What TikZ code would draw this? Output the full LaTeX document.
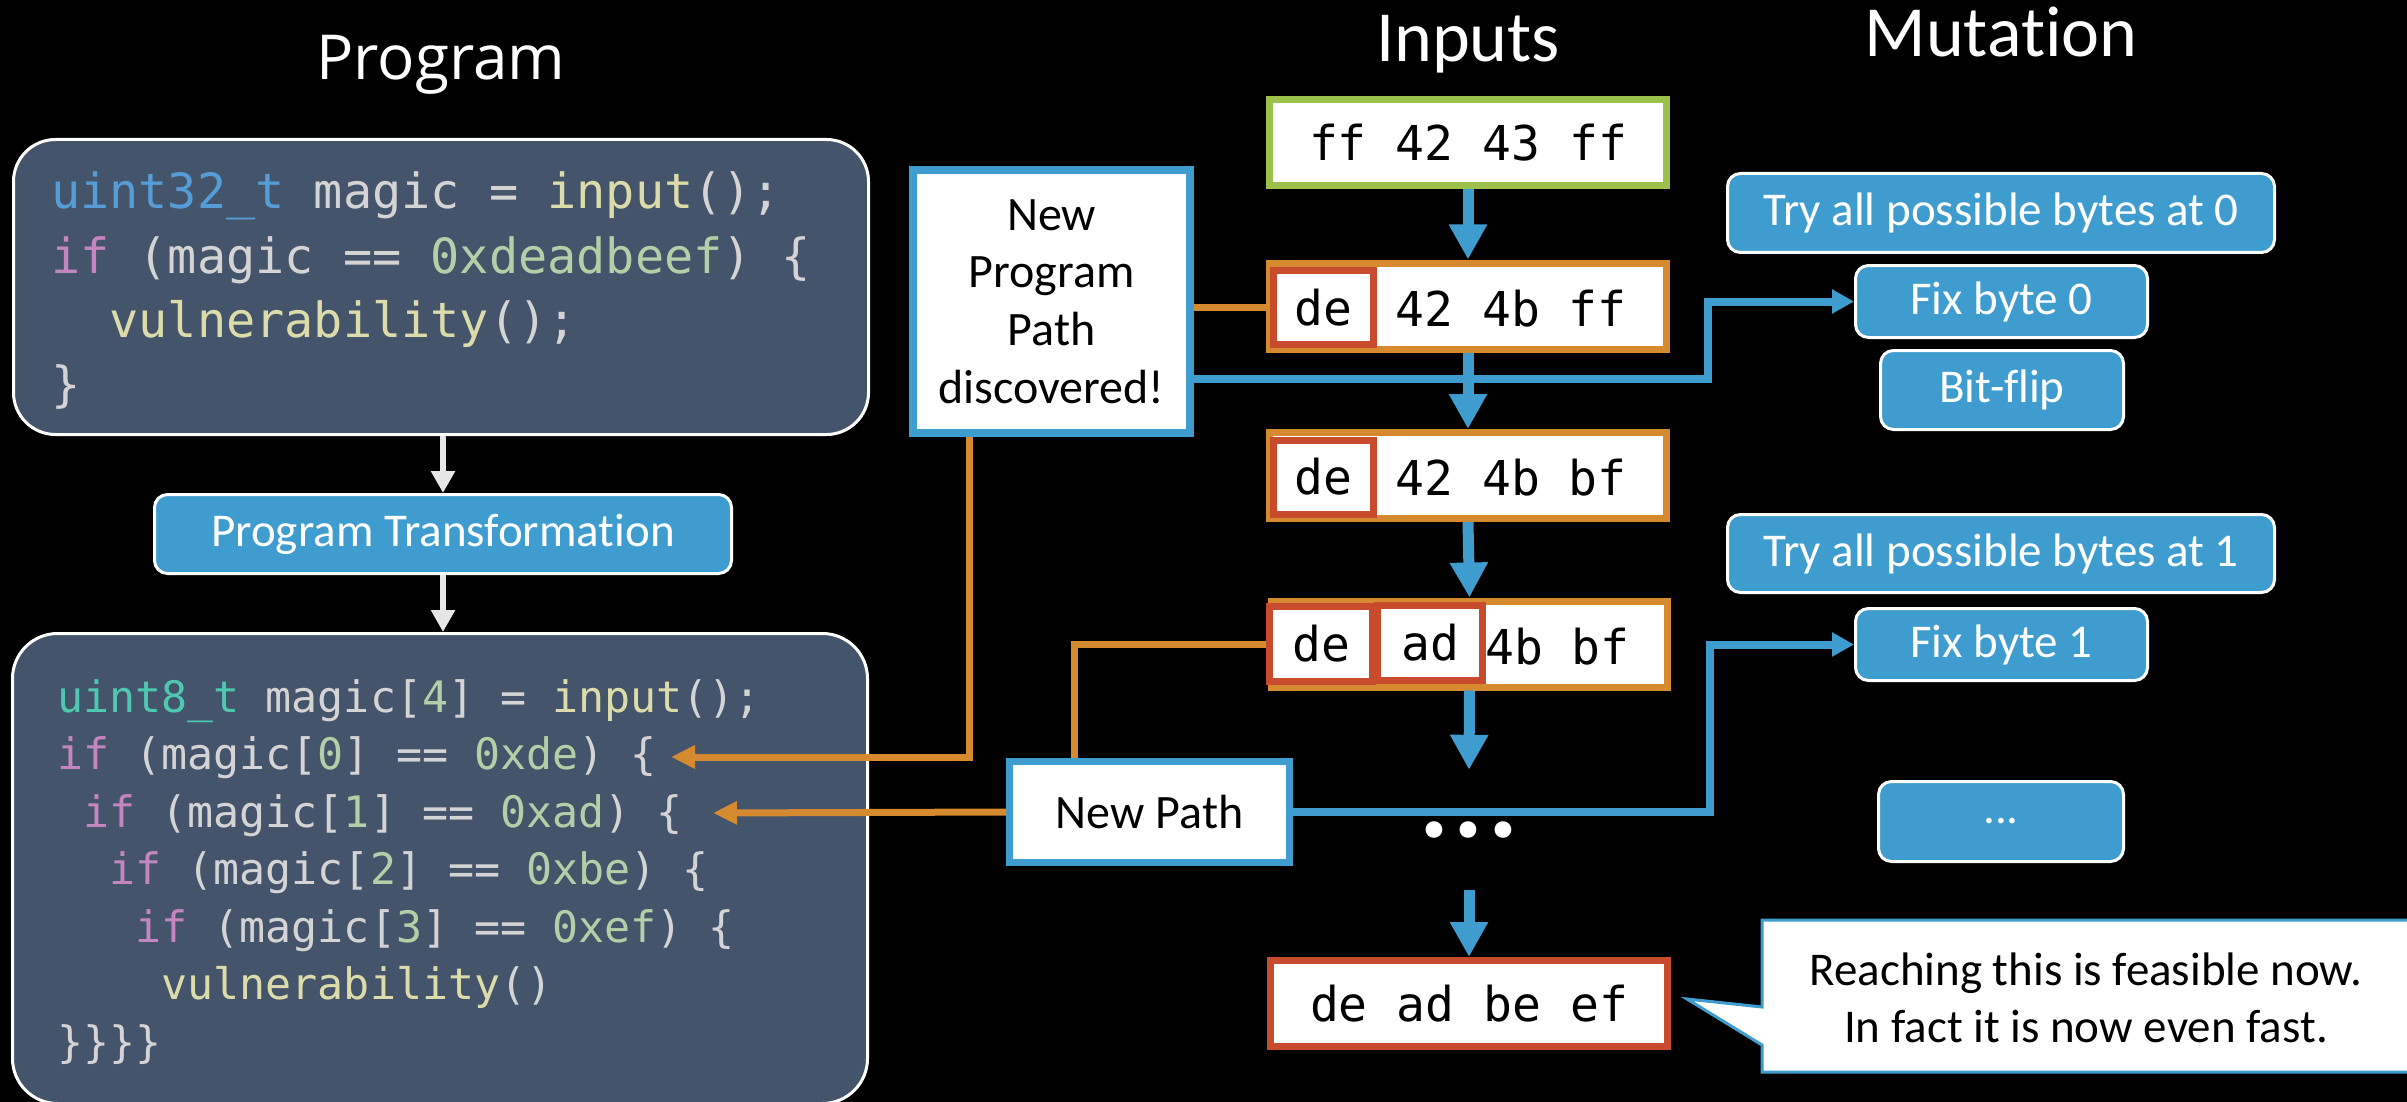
\documentclass[tikz,border=0pt]{standalone}
\usepackage{fontspec}
\setmainfont{Carlito}[Ligatures=NoCommon]
\newfontfamily\titlefont{Open Sans}
\newfontfamily\monofont{DejaVu Sans Mono}
\usetikzlibrary{arrows.meta,calc}
\definecolor{slate}{HTML}{44546A}
\definecolor{cblue}{HTML}{3E9CCE}
\definecolor{corange}{HTML}{D68A2F}
\definecolor{cred}{HTML}{C84B2E}
\definecolor{cgreen}{HTML}{9BC14A}
\definecolor{cdtext}{HTML}{D4D4D4}
\definecolor{cdtype}{HTML}{569CD6}
\definecolor{cdteal}{HTML}{4EC9B0}
\definecolor{cdfunc}{HTML}{DCDCAA}
\definecolor{cdkey}{HTML}{C586C0}
\definecolor{cdnumc}{HTML}{B5CEA8}
\definecolor{warr}{HTML}{E6E6E6}
\newcommand\cdty[1]{\textcolor{cdtype}{#1}}
\newcommand\cdtl[1]{\textcolor{cdteal}{#1}}
\newcommand\cdfn[1]{\textcolor{cdfunc}{#1}}
\newcommand\cdkw[1]{\textcolor{cdkey}{#1}}
\newcommand\cdnm[1]{\textcolor{cdnumc}{#1}}
\begin{document}
\begin{tikzpicture}[x=1pt,y=-1pt,
  codebox/.style={draw=white, line width=3, fill=slate, rounded corners=42, inner sep=0},
  codeA/.style={anchor=base west, inner sep=0, text=cdtext, font=\monofont\fontsize{48.5}{58}\selectfont},
  codeB/.style={anchor=base west, inner sep=0, text=cdtext, font=\monofont\fontsize{43.3}{52}\selectfont},
  bluebox/.style={draw=white, line width=3, fill=cblue, rounded corners=13, inner sep=0, text=white, font=\fontsize{47}{56}\selectfont},
  inbox/.style={draw, line width=7, fill=white, minimum width=397, minimum height=86, inner sep=0, font=\monofont\fontsize{48}{56}\selectfont},
  rbox/.style={draw=cred, line width=7, fill=white, inner sep=0, minimum height=74, font=\monofont\fontsize{48}{56}\selectfont},
  intext/.style={anchor=base, inner sep=0, font=\monofont\fontsize{48}{56}\selectfont},
  pathbox/.style={draw=cblue, line width=8, fill=white, inner sep=0, align=center, font=\fontsize{48}{57.7}\selectfont},
  fat/.style={draw=cblue, line width=11, -{Triangle[width=36pt,length=35pt]}},
  bconn/.style={draw=cblue, line width=8, -{Triangle[width=23pt,length=22pt]}},
  oconn/.style={draw=corange, line width=7},
  oarrow/.style={draw=corange, line width=7, -{Triangle[width=22pt,length=24pt]}},
  warrow/.style={draw=warr, line width=6, -{Triangle[width=23pt,length=22pt]}},
  title/.style={anchor=base, inner sep=0, text=white}
]
\useasboundingbox (0,0) rectangle (2407,1102);
\clip (0,0) rectangle (2407,1102);
\fill[black] (0,0) rectangle (2407,1102);

% titles
\node[title, font=\titlefont\fontsize{62}{70}\selectfont] (tprog) at (441,80) {Program};
\node[title, font=\fontsize{72}{80}\selectfont] (tin) at (1468,62) {Inputs};
\node[title, font=\fontsize{72}{80}\selectfont] (tmut) at (2001,57) {Mutation};

% program boxes
\node[codebox, minimum width=855, minimum height=295] (prog1) at (441,287) {};
\node[codeA] (c1a) at (51,209) {\cdty{uint32\_t} magic = \cdfn{input}();};
\node[codeA] (c1b) at (51,273) {\cdkw{if} (magic == \cdnm{0xdeadbeef}) \{};
\node[codeA] (c1c) at (51,337) {\phantom{xx}\cdfn{vulnerability}();};
\node[codeA] (c1d) at (51,401) {\}};

\node[bluebox, minimum width=577, minimum height=79] (pt) at (443,534) {Program Transformation};

\node[codebox, minimum width=855, minimum height=470, rounded corners=45] (prog2) at (440,868.5) {};
\node[codeB] (c2a) at (57,712) {\cdtl{uint8\_t} magic[\cdnm{4}] = \cdfn{input}();};
\node[codeB] (c2b) at (57,769.5) {\cdkw{if} (magic[\cdnm{0}] == \cdnm{0xde}) \{};
\node[codeB] (c2c) at (57,827) {\phantom{x}\cdkw{if} (magic[\cdnm{1}] == \cdnm{0xad}) \{};
\node[codeB] (c2d) at (57,884.5) {\phantom{xx}\cdkw{if} (magic[\cdnm{2}] == \cdnm{0xbe}) \{};
\node[codeB] (c2e) at (57,942) {\phantom{xxx}\cdkw{if} (magic[\cdnm{3}] == \cdnm{0xef}) \{};
\node[codeB] (c2f) at (57,999.5) {\phantom{xxxx}\cdfn{vulnerability}()};
\node[codeB] (c2g) at (57,1057) {\}\}\}\}};

\draw[warrow] (pt.north |- prog1.south) -- (pt.north);
\draw[warrow] (pt.south) -- (pt.south |- prog2.north);

% path boxes
\node[pathbox, minimum width=277, minimum height=263] (npp) at (1051.5,301.5) {New\\Program\\Path\\discovered!};
\node[pathbox, line width=7, minimum width=280, minimum height=101] (np) at (1149.5,812) {New Path};

% mutation boxes
\node[bluebox, minimum width=547, minimum height=79] (m0) at (2001,213) {Try all possible bytes at 0};
\node[bluebox, minimum width=292, minimum height=72] (fb0) at (2001.5,301.5) {Fix byte 0};
\node[bluebox, minimum width=243, minimum height=79] (bf) at (2002,390) {Bit-flip};
\node[bluebox, minimum width=547, minimum height=78] (m1) at (2001,553.5) {Try all possible bytes at 1};
\node[bluebox, minimum width=292, minimum height=72] (fb1) at (2001.5,644.5) {Fix byte 1};
\node[bluebox, minimum width=245, minimum height=80] (md) at (2001,821.5) {...};

% coordinates for code-arrow ends
\coordinate (t0) at (671,757);
\coordinate (t1) at (713,813);

% orange connectors (behind boxes)
\draw[oconn] (npp.east |- 0,307) -- (1268,307);
\draw[oarrow] (npp.south -| 969,0) |- (t0);
\draw[oarrow] (np.west) -- (t1);
\draw[oconn] (np.north -| 1074,0) |- (1268,644);

% blue connectors
\draw[bconn] (npp.east |- 0,379) -| (1708,0 |- fb0.west) -- (fb0.west);
\draw[bconn] (np.east) -| (1710,0 |- fb1.west) -- (fb1.west);

% inputs
\node[inbox, draw=cgreen] (in1) at (1468,142.5) {ff 42 43 ff};
\node[inbox, draw=corange] (in2) at (1468,306) {};
\node[rbox, minimum width=100] (in2a) at (1323.5,307.5) {de};
\node[intext] (in2b) at (1511,326) {42 4b ff};
\node[inbox, draw=corange] (in3) at (1468,475.5) {};
\node[rbox, minimum width=100] (in3a) at (1323.5,477) {de};
\node[intext] (in3b) at (1511,495.5) {42 4b bf};
\node[inbox, draw=corange, minimum width=396] (in4) at (1469.5,644) {};
\node[rbox, minimum width=103, minimum height=75] (in4a) at (1321,644) {de};
\node[rbox, minimum width=105, minimum height=75] (in4b) at (1430,643) {ad};
\node[intext] (in4c) at (1557.5,664) {4b bf};
\node[text=white, inner sep=0, minimum height=120, font=\bfseries\fontsize{112}{112}\selectfont] (dots) at (1469,830) {.\hspace{5pt}.\hspace{5pt}.};
\node[inbox, draw=cred] (in5) at (1469,1003.5) {de ad be ef};

\draw[fat] (in1.south) -- (in2.north);
\draw[fat] (in2.south) -- (in3.north);
\draw[fat] (in3.south) -- (in4.north);
\draw[fat] (in4.south) -- (dots.north);
\draw[fat] (dots.south) -- (in5.north);

% callout
\filldraw[fill=white, draw=cblue, line width=3, line join=miter]
  (1762,1007) -- (1687,999) -- (1762,1045) -- (1762,1072) -- (2412,1072) -- (2412,920) -- (1762,920) -- cycle;
\node[inner sep=0, align=center, font=\fontsize{47}{57}\selectfont] (co) at (2086,997.5) {Reaching this is feasible now.\\In fact it is now even fast.};
\end{tikzpicture}
\end{document}
